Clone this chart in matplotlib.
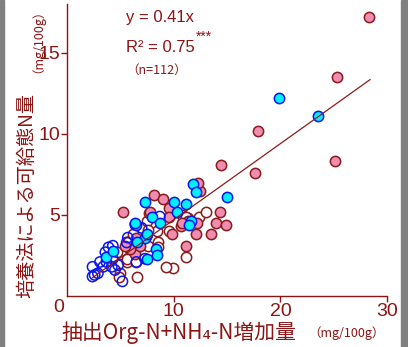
import matplotlib
matplotlib.use('Agg')
import matplotlib.pyplot as plt
from matplotlib import font_manager
from matplotlib.patches import Rectangle

# pink filled points
pink_x = [28.3, 25.3, 17.9, 14.4, 25.1, 17.6, 12.5, 12.3, 14.3, 14.0, 14.9, 13.5,
          8.2, 9.0, 9.6, 11.2, 10.7, 9.8, 12.1, 12.2, 5.3, 7.8, 6.4, 5.9, 6.8,
          6.5, 5.4, 11.3, 9.6, 10.8]
pink_y = [17.2, 13.5, 10.2, 8.1, 8.3, 7.6, 6.5, 7.0, 5.2, 4.5, 4.4, 3.8,
          6.2, 6.0, 5.4, 3.1, 4.3, 3.8, 3.8, 4.5, 5.2, 5.2, 2.6, 2.9, 3.1,
          3.6, 3.1, 4.6, 4.9, 4.5]

# cyan filled points
cyan_x = [19.9, 23.5, 15.0, 11.8, 12.1, 11.2, 10.0, 10.3, 11.6, 11.4, 7.3, 8.0,
          8.7, 8.3, 8.4, 7.3, 7.5, 6.5, 6.4, 3.7, 4.3, 6.6, 7.5]
cyan_y = [12.2, 11.1, 6.1, 6.9, 6.4, 5.7, 5.8, 5.2, 4.6, 4.4, 5.8, 4.9,
          4.5, 2.9, 2.5, 3.6, 3.8, 4.4, 4.5, 2.4, 2.8, 3.3, 2.3]

# blue open points
blue_x = [2.4, 2.4, 2.9, 3.1, 3.7, 4.2, 4.3, 4.8, 5.2, 4.3, 5.6, 5.7, 6.5,
          7.3, 8.7, 6.4, 3.6, 3.4, 2.6, 7.0, 7.5, 4.5, 3.9]
blue_y = [1.8, 1.2, 1.4, 2.1, 2.1, 1.8, 2.3, 1.9, 0.9, 3.1, 3.3, 3.6, 2.1,
          2.3, 4.9, 4.4, 2.7, 1.8, 1.3, 4.2, 3.7, 1.6, 3.0]

# dark red open points
red_x = [7.5, 8.4, 9.9, 9.3, 6.6, 5.6, 5.0, 5.1, 6.1, 8.5, 9.6, 11.3, 12.4,
         13.0, 11.2, 4.7, 5.6, 5.7, 6.2, 7.7, 10.8, 7.6, 6.6, 7.6, 8.5, 11.2,
         6.5, 4.9]
red_y = [4.6, 4.0, 1.7, 1.8, 1.2, 2.1, 1.4, 2.6, 3.5, 3.3, 4.0, 4.8, 4.9,
         5.2, 2.4, 2.7, 2.3, 3.3, 3.8, 5.1, 5.0, 4.1, 3.1, 3.1, 3.0, 4.9,
         2.1, 1.2]

slope = 0.47
line_x = [2.4, 28.4]

xticks = [10, 20, 30]
yticks = [5, 10, 15]

names = {f.name for f in font_manager.fontManager.ttflist}
narrow = 'Liberation Sans Narrow' if 'Liberation Sans Narrow' in names else 'Liberation Sans'
jp = ['Noto Sans CJK JP', 'DejaVu Sans']
dark = '#8B1414'

fig = plt.figure(figsize=(4.08, 3.47), dpi=100)
ax = fig.add_axes([0.164, 0.147, 0.785, 0.841])

ax.scatter(red_x, red_y, s=55, facecolor='white', edgecolor='#8B1A1A', linewidth=1.1, zorder=2)
ax.scatter(pink_x, pink_y, s=55, facecolor='#F08CB0', edgecolor='#8B1A1A', linewidth=1.1, zorder=2)
ax.scatter(blue_x, blue_y, s=55, facecolor='none', edgecolor='#0A14F0', linewidth=1.1, zorder=3)
ax.scatter(cyan_x, cyan_y, s=55, facecolor='#00F0FF', edgecolor='#0A14F0', linewidth=1.1, zorder=3)
ax.plot(line_x, [slope * v for v in line_x], color='#8B1A1A', linewidth=0.9, zorder=4)

ax.set_xlim(0, 30)
ax.set_ylim(0, 18)
ax.set_xticks(xticks)
ax.set_yticks(yticks)
for s in ['top', 'right']:
    ax.spines[s].set_visible(False)
for s in ['left', 'bottom']:
    ax.spines[s].set_color(dark)
    ax.spines[s].set_linewidth(1.0)
ax.tick_params(colors=dark, length=4, width=1.0, labelsize=14, pad=1)
for lab in ax.get_xticklabels() + ax.get_yticklabels():
    lab.set_family(narrow)
ax.annotate('0', xy=(0, 0), xytext=(-6, -8), textcoords='offset points',
            ha='center', va='center', fontsize=14, family=narrow, color=dark,
            annotation_clip=False)

# regression text
ax.text(0.185, 0.955, 'y = 0.41x', transform=ax.transAxes, fontsize=12,
        family='Liberation Sans', color=dark, va='center')
t = ax.text(0.185, 0.85, 'R² = 0.75', transform=ax.transAxes, fontsize=12,
            family='Liberation Sans', color=dark, va='center')
ax.annotate('***', xy=(1, 0.75), xycoords=t, xytext=(1, 0), textcoords='offset points',
            fontsize=10, family='Liberation Sans', color=dark, va='bottom')
ax.text(0.185, 0.775, '（n=112）', transform=ax.transAxes, fontsize=9,
        family=jp, color=dark, va='center', ha='left')

# axis labels
fig.text(0.15, 0.04, '抽出Org-N+NH₄-N増加量', fontsize=15, family=jp, color=dark,
         ha='left', va='center')
fig.text(0.755, 0.04, '（mg/100g）', fontsize=9, family=jp, color=dark,
         ha='left', va='center')
fig.text(0.066, 0.14, '培養法による可給態N量', fontsize=13.8, family=jp, color=dark,
         rotation=90, ha='center', va='bottom')
fig.text(0.077, 0.79, '（mg/100g）', fontsize=9, family=jp, color=dark,
         rotation=90, ha='center', va='bottom')

# screenshot border strips
fig.patches.append(Rectangle((0, 0), 4 / 408, 1, transform=fig.transFigure, color='#808080'))
fig.patches.append(Rectangle((401 / 408, 0), 7 / 408, 1, transform=fig.transFigure, color='#808080'))

fig.savefig('out.png', dpi=100)
